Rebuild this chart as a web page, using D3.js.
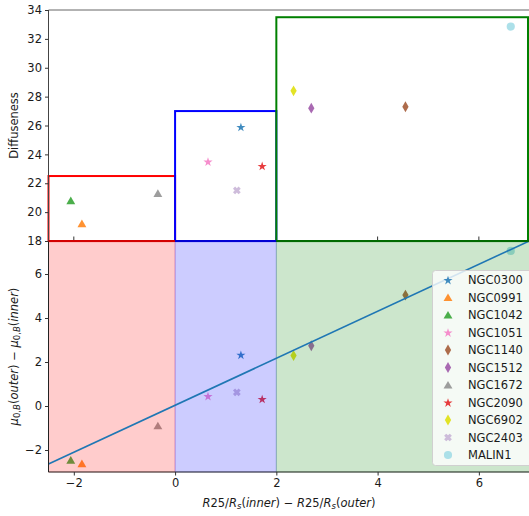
<!DOCTYPE html>
<html><head><meta charset="utf-8">
<script src="https://cdn.jsdelivr.net/npm/d3@7"></script>
<style>
body{margin:0;background:#fff;}
text{font-family:"DejaVu Sans",sans-serif;fill:#1a1a1a;}
</style></head>
<body><svg id="c" width="529" height="516"></svg>
<script>
// ---- data ----
const galaxies = ["NGC0300","NGC0991","NGC1042","NGC1051","NGC1140","NGC1512","NGC1672","NGC2090","NGC6902","NGC2403","MALIN1"];
const markers  = ["star","triangle","triangle","star","diamond","diamond","triangle","star","diamond","x","circle"];
const colors   = ["#1f77b4","#ff7f0e","#2ca02c","#f47ac4","#a0522d","#9a4fa5","#8c8c8c","#e31a1c","#dede00","#c5b0d5","#9edae5"];
const deltaR   = [1.30,-1.84,-2.06,0.65,4.55,2.69,-0.34,1.72,2.34,1.22,6.63];
const diffuse  = [25.9,19.2,20.8,23.5,27.3,27.2,21.3,23.2,28.4,21.5,32.85];
const deltaMu  = [2.33,-2.62,-2.46,0.45,5.04,2.74,-0.90,0.32,2.29,0.62,7.05];
const fitX = [-2.5, 7.0];
const fitY = [-2.64, 7.51];
const regionStart = [-2.5, 0, 2];
const regionEnd   = [0, 2, 7];
const regionTop   = [22.5, 27, 33.5];
const regionColor = ["#ff0000","#0000ff","#008000"];
const xTicks = [-2,0,2,4,6];
const topTicks = [18,20,22,24,26,28,30,32,34];
const botTicks = [-2,0,2,4,6];

// ---- layout ----
const svg = d3.select("#c");
const L = 48.5, R = 529.5, T = 10, M = 241, B = 472;
const x = d3.scaleLinear().domain([-2.5,7]).range([L,R]);
const yTop = d3.scaleLinear().domain([18,34]).range([M,T]);
const yBot = d3.scaleLinear().domain([-3,7.5]).range([B,M]);

// filled "X" marker (matplotlib 'X')
const symbolX = {draw(ctx, size){
  const r = Math.sqrt(size)/2, w = r*0.55;
  const pts = [[-r,-r+w],[-r+w,-r],[0,-w],[r-w,-r],[r,-r+w],[w,0],[r,r-w],[r-w,r],[0,w],[-r+w,r],[-r,r-w],[-w,0]];
  ctx.moveTo(pts[0][0],pts[0][1]);
  for (let k=1;k<pts.length;k++) ctx.lineTo(pts[k][0],pts[k][1]);
  ctx.closePath();
}};
const symType = {star:d3.symbolStar, triangle:d3.symbolTriangle, diamond:d3.symbolDiamond, circle:d3.symbolCircle, x:symbolX};
const symSize = {star:26, triangle:34, diamond:34, circle:52, x:60};
function marker(g, i, cx, cy, op){
  const m = markers[i];
  let tr = `translate(${cx},${cy})`;
  if (m==="triangle") tr += " translate(0,1)";
  if (m==="star") tr += " translate(0,0.5)";
  g.append("path").attr("d", d3.symbol().type(symType[m]).size(symSize[m])())
    .attr("transform", tr).attr("fill", colors[i]).attr("fill-opacity", op);
}

// ---- top panel ----
const gTop = svg.append("g");
gTop.selectAll("line.tt").data(xTicks).join("line")
  .attr("x1", d=>x(d)).attr("x2", d=>x(d)).attr("y1", M-4.5).attr("y2", M)
  .attr("stroke","#333").attr("stroke-width",1);
regionStart.forEach((s,i)=>{
  gTop.append("rect")
    .attr("x", x(s)).attr("y", yTop(regionTop[i]))
    .attr("width", Math.min(x(regionEnd[i]), 528) - x(s))
    .attr("height", yTop(18)-yTop(regionTop[i]))
    .attr("fill","none").attr("stroke", regionColor[i]).attr("stroke-width",2);
});
galaxies.forEach((g,i)=> marker(gTop, i, x(deltaR[i]), yTop(diffuse[i]), 0.85));
gTop.append("line").attr("x1",L).attr("x2",R).attr("y1",T).attr("y2",T).attr("stroke","#666").attr("stroke-width",1);
gTop.append("line").attr("x1",L).attr("x2",L).attr("y1",T).attr("y2",M).attr("stroke","#444").attr("stroke-width",1);
const ayTop = d3.axisLeft(yTop).tickValues(topTicks).tickSize(3.5).tickPadding(3);
const gay = svg.append("g").attr("transform",`translate(${L},0)`).call(ayTop);
gay.select(".domain").remove();
gay.selectAll("text").style("font-size","11.5px").attr("fill","#1a1a1a");
gay.selectAll("line").attr("stroke","#333");
svg.append("text").attr("transform",`translate(18,${(T+M)/2}) rotate(-90)`)
  .attr("text-anchor","middle").style("font-size","11.5px").text("Diffuseness");

// ---- bottom panel ----
const gBot = svg.append("g");
galaxies.forEach((g,i)=> marker(gBot, i, x(deltaR[i]), yBot(deltaMu[i]), 0.85));
regionStart.forEach((s,i)=>{
  gBot.append("rect")
    .attr("x", x(s)).attr("y", M+1)
    .attr("width", x(regionEnd[i]) - x(s)).attr("height", B-M-1)
    .attr("fill", regionColor[i]).attr("fill-opacity",0.2)
    .attr("stroke", regionColor[i]).attr("stroke-opacity",0.2).attr("stroke-width",1);
});
gBot.append("path")
  .attr("d", d3.line().x((d,i)=>x(d)).y((d,i)=>yBot(fitY[i]))(fitX))
  .attr("stroke","#1f77b4").attr("stroke-width",1.6).attr("fill","none");
regionStart.forEach((s,i)=>{
  svg.append("line").attr("x1",x(s)).attr("x2",Math.min(x(regionEnd[i]),529)).attr("y1",M).attr("y2",M)
    .attr("stroke",regionColor[i]).attr("stroke-width",2).attr("stroke-opacity",0.9);
});
svg.append("line").attr("x1",L).attr("x2",R).attr("y1",M).attr("y2",M).attr("stroke","#000").attr("stroke-opacity",0.35).attr("stroke-width",1);
gBot.append("line").attr("x1",L).attr("x2",L).attr("y1",M).attr("y2",B).attr("stroke","#222").attr("stroke-width",1);
gBot.append("line").attr("x1",L).attr("x2",R).attr("y1",B).attr("y2",B).attr("stroke","#222").attr("stroke-width",1);
const ayBot = d3.axisLeft(yBot).tickValues(botTicks).tickSize(3.5).tickPadding(3).tickFormat(d=>d<0?"\u2212"+Math.abs(d):d);
const gby = svg.append("g").attr("transform",`translate(${L},0)`).call(ayBot);
gby.select(".domain").remove();
gby.selectAll("text").style("font-size","11.5px").attr("fill","#1a1a1a");
gby.selectAll("line").attr("stroke","#333");
const ax = d3.axisBottom(x).tickValues(xTicks).tickSize(3.5).tickPadding(3).tickFormat(d=>d<0?"\u2212"+Math.abs(d):d);
const gax = svg.append("g").attr("transform",`translate(0,${B})`).call(ax);
gax.select(".domain").remove();
gax.selectAll("text").style("font-size","11.5px").attr("fill","#1a1a1a");
gax.selectAll("line").attr("stroke","#333");

function mathLabel(t, parts){
  parts.forEach(p=>{
    const ts = t.append("tspan").text(p[0]);
    if (p[1]) ts.style("font-style","italic");
    if (p[2]==="sub") ts.attr("baseline-shift","-22%").style("font-size","8.5px");
  });
}
const yl = svg.append("text").attr("transform",`translate(18,${(M+B)/2}) rotate(-90)`)
  .attr("text-anchor","middle").style("font-size","11.5px");
mathLabel(yl, [["\u03bc",true],["0,",false,"sub"],["B",true,"sub"],["(",false],["outer",true],[")",false],[" \u2212 ",false],["\u03bc",true],["0,",false,"sub"],["B",true,"sub"],["(",false],["inner",true],[")",false]]);
const xl = svg.append("text").attr("x",(L+R)/2).attr("y",507).attr("text-anchor","middle").style("font-size","11.5px");
mathLabel(xl, [["R",true],["25/",false],["R",true],["s",true,"sub"],["(",false],["inner",true],[")",false],[" \u2212 ",false],["R",true],["25/",false],["R",true],["s",true,"sub"],["(",false],["outer",true],[")",false]]);

// ---- legend ----
const lg = svg.append("g");
lg.append("rect").attr("x",432.5).attr("y",270.5).attr("width",110).attr("height",195).attr("rx",3)
  .attr("fill","#fff").attr("fill-opacity",0.8).attr("stroke","#d0d0d0").attr("stroke-width",1);
galaxies.forEach((g,i)=>{
  const cy = 280 + i*17.5;
  marker(lg, i, 448, cy, 0.85);
  lg.append("text").attr("x",468).attr("y",cy+4).style("font-size","11.5px").text(g);
});
</script></body></html>
